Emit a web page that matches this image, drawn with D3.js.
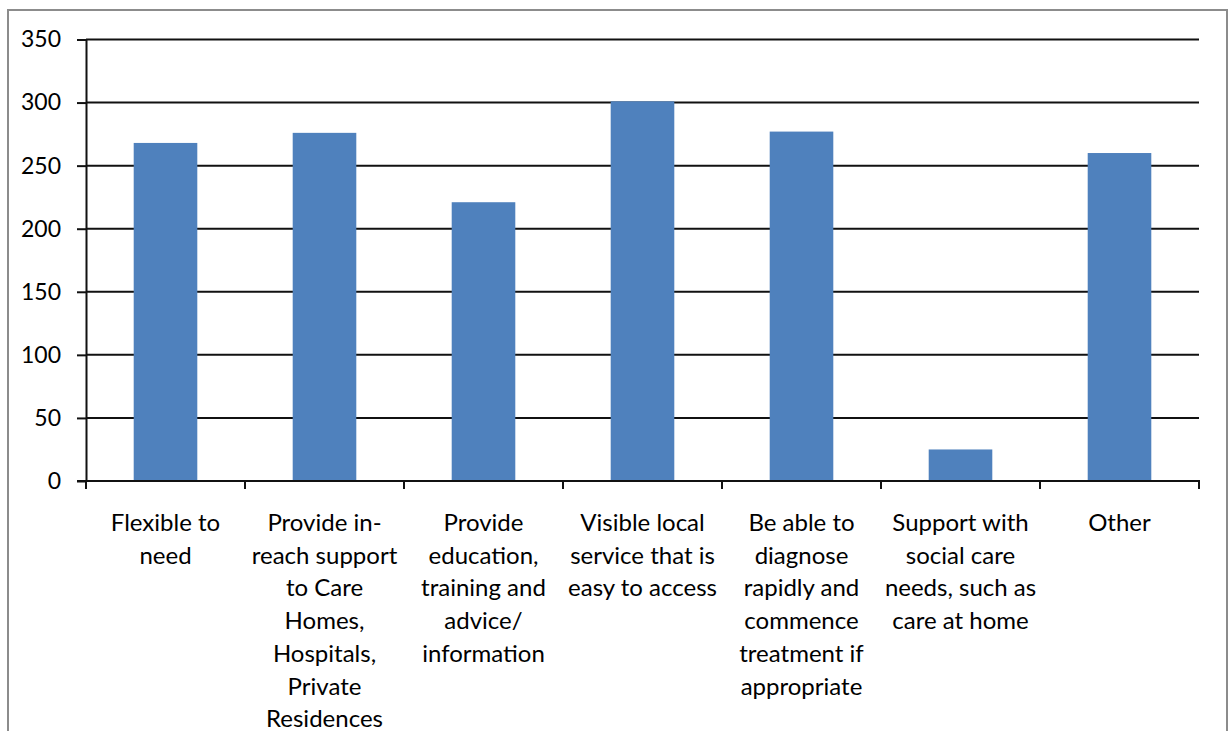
<!DOCTYPE html>
<html>
<head>
<meta charset="utf-8">
<script src="https://cdn.jsdelivr.net/npm/d3@7"></script>
<style>
  html, body { margin: 0; padding: 0; background: #fff; }
  svg { display: block; }
  text { font-family: Lato, "Liberation Sans", sans-serif; fill: #000; }
</style>
</head>
<body>
<svg id="chart" width="1230" height="731"></svg>
<script>
// Survey responses: what people want from the service
const categories = [
  "Flexible to\nneed",
  "Provide in-\nreach support\nto Care\nHomes,\nHospitals,\nPrivate\nResidences",
  "Provide\neducation,\ntraining and\nadvice/\ninformation",
  "Visible local\nservice that is\neasy to access",
  "Be able to\ndiagnose\nrapidly and\ncommence\ntreatment if\nappropriate",
  "Support with\nsocial care\nneeds, such as\ncare at home",
  "Other"
];
const values = [268, 276, 221, 301, 277, 25, 260];
const yTicks = [0, 50, 100, 150, 200, 250, 300, 350];

const svg = d3.select("#chart");
const plot = { left: 86, right: 1199, top: 39.5, bottom: 481 };

// outer chart frame
svg.append("rect")
  .attr("x", 8).attr("y", 10)
  .attr("width", 1219).attr("height", 800)
  .attr("fill", "none").attr("stroke", "#8c8c8c").attr("stroke-width", 2);

const x = d3.scaleBand()
  .domain(d3.range(categories.length))
  .range([plot.left, plot.right])
  .paddingInner(0.6).paddingOuter(0.3);

const xTick = d3.scaleLinear()
  .domain([0, categories.length])
  .range([plot.left, plot.right]);

const y = d3.scaleLinear().domain([0, 350]).range([plot.bottom, plot.top]);

// horizontal gridlines
svg.append("g")
  .selectAll("line")
  .data(yTicks.filter(d => d > 0))
  .join("line")
  .attr("x1", plot.left).attr("x2", plot.right)
  .attr("y1", d => y(d)).attr("y2", d => y(d))
  .attr("stroke", "#111").attr("stroke-width", 2);

// bars
svg.append("g")
  .selectAll("rect")
  .data(values)
  .join("rect")
  .attr("x", (d, i) => x(i))
  .attr("width", x.bandwidth())
  .attr("y", d => y(d))
  .attr("height", d => y(0) - y(d))
  .attr("fill", "#4F81BD");

// y axis
const yAxis = d3.axisLeft(y).tickValues(yTicks).tickSize(9).tickPadding(16).tickSizeOuter(0);
const gy = svg.append("g").attr("transform", `translate(${plot.left},0)`).call(yAxis);
gy.select(".domain").attr("stroke", "#111").attr("stroke-width", 2);
gy.selectAll(".tick line").attr("stroke", "#111").attr("stroke-width", 2);
gy.selectAll(".tick text")
  .style("font-family", "Lato, 'Liberation Sans', sans-serif")
  .attr("font-size", 23).attr("fill", "#000");

// x axis baseline and category separators
svg.append("line")
  .attr("x1", plot.left - 9).attr("x2", plot.right + 1)
  .attr("y1", y(0)).attr("y2", y(0))
  .attr("stroke", "#111").attr("stroke-width", 2);

svg.append("g")
  .selectAll("line")
  .data(d3.range(categories.length + 1))
  .join("line")
  .attr("x1", d => xTick(d)).attr("x2", d => xTick(d))
  .attr("y1", y(0)).attr("y2", y(0) + 8)
  .attr("stroke", "#111").attr("stroke-width", 2);

// category labels
const labels = svg.append("g")
  .selectAll("text")
  .data(categories)
  .join("text")
  .attr("text-anchor", "middle")
  .attr("font-size", 24)
  .attr("x", (d, i) => x(i) + x.bandwidth() / 2)
  .attr("y", 531);

labels.selectAll("tspan")
  .data(d => d.split("\n"))
  .join("tspan")
  .attr("x", function () { return this.parentNode.getAttribute("x"); })
  .attr("dy", (d, i) => i === 0 ? 0 : 32.7)
  .text(d => d);
</script>
</body>
</html>
